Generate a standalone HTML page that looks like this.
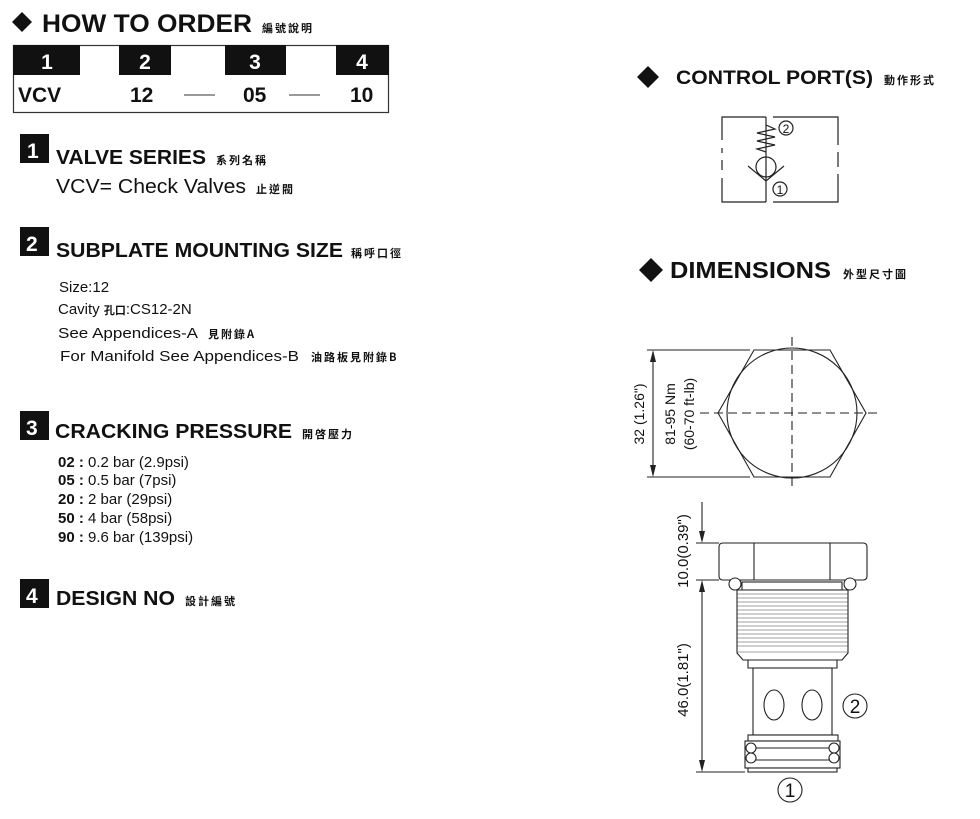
<!DOCTYPE html>
<html><head><meta charset="utf-8"><style>
html,body{margin:0;padding:0;background:#fff;}
svg{display:block;}
text{font-family:"Liberation Sans","Noto Sans CJK TC",sans-serif;fill:#111;}
.b{font-weight:bold;}
.cj{font-family:"Noto Sans CJK TC","Liberation Sans",sans-serif;font-size:11px;font-weight:bold;letter-spacing:2px;}
</style></head><body>
<svg width="980" height="819" viewBox="0 0 980 819" xmlns="http://www.w3.org/2000/svg">
<!-- HOW TO ORDER -->
<polygon points="22,12 32,22 22,32 12,22" fill="#111"/>
<text x="42" y="32" class="b" font-size="25" textLength="210" lengthAdjust="spacingAndGlyphs">HOW TO  ORDER</text>
<text x="262" y="32" class="cj">編號說明</text>
<!-- table -->
<rect x="13.5" y="45.5" width="375" height="67" fill="#fff" stroke="#333" stroke-width="1.2"/>
<rect x="13" y="45" width="67" height="30" fill="#111"/>
<rect x="119" y="45" width="52" height="30" fill="#111"/>
<rect x="225" y="45" width="61" height="30" fill="#111"/>
<rect x="336" y="45" width="53" height="30" fill="#111"/>
<g class="b" font-size="21" text-anchor="middle" style="fill:#fff">
<text x="47" y="69" style="fill:#fff" class="b">1</text>
<text x="145" y="69" style="fill:#fff" class="b">2</text>
<text x="255" y="69" style="fill:#fff" class="b">3</text>
<text x="362" y="69" style="fill:#fff" class="b">4</text>
</g>
<g font-size="21" class="b">
<text x="18" y="102" class="b">VCV</text>
<text x="130" y="102" class="b">12</text>
<text x="243" y="102" class="b">05</text>
<text x="350" y="102" class="b">10</text>
</g>
<line x1="184" y1="95" x2="215" y2="95" stroke="#333" stroke-width="1"/>
<line x1="289" y1="95" x2="320" y2="95" stroke="#333" stroke-width="1"/>

<!-- section 1 -->
<rect x="20" y="134" width="29" height="29" fill="#111"/>
<text x="27" y="158" class="b" font-size="21" style="fill:#fff">1</text>
<text x="56" y="164" class="b" font-size="20" textLength="150" lengthAdjust="spacingAndGlyphs">VALVE SERIES</text>
<text x="216" y="164" class="cj">系列名稱</text>
<text x="56" y="193" font-size="20" textLength="190" lengthAdjust="spacingAndGlyphs">VCV= Check Valves</text>
<text x="256" y="193" class="cj">止逆閥</text>

<!-- section 2 -->
<rect x="20" y="227" width="29" height="29" fill="#111"/>
<text x="26" y="251" class="b" font-size="21" style="fill:#fff">2</text>
<text x="56" y="257" class="b" font-size="20" textLength="287" lengthAdjust="spacingAndGlyphs">SUBPLATE MOUNTING SIZE</text>
<text x="351" y="257" class="cj">稱呼口徑</text>
<text x="59" y="292" font-size="15">Size:12</text>
<text x="58" y="314" font-size="15">Cavity <tspan class="cj" style="letter-spacing:0" font-size="11">孔口</tspan>:CS12-2N</text>
<text x="58" y="338" font-size="15" textLength="140" lengthAdjust="spacingAndGlyphs">See Appendices-A</text>
<text x="208" y="338" class="cj">見附錄A</text>
<text x="60" y="361" font-size="15" textLength="239" lengthAdjust="spacingAndGlyphs">For Manifold See Appendices-B</text>
<text x="311" y="361" class="cj">油路板見附錄B</text>

<!-- section 3 -->
<rect x="20" y="411" width="29" height="29" fill="#111"/>
<text x="26" y="435" class="b" font-size="21" style="fill:#fff">3</text>
<text x="55" y="438" class="b" font-size="20" textLength="237" lengthAdjust="spacingAndGlyphs">CRACKING PRESSURE</text>
<text x="302" y="438" class="cj">開啓壓力</text>
<g font-size="15">
<text x="58" y="467"><tspan class="b">02 :</tspan> 0.2 bar (2.9psi)</text>
<text x="58" y="485"><tspan class="b">05 :</tspan> 0.5 bar (7psi)</text>
<text x="58" y="504"><tspan class="b">20 :</tspan> 2 bar (29psi)</text>
<text x="58" y="523"><tspan class="b">50 :</tspan> 4 bar (58psi)</text>
<text x="58" y="542"><tspan class="b">90 :</tspan> 9.6 bar (139psi)</text>
</g>

<!-- section 4 -->
<rect x="20" y="579" width="29" height="29" fill="#111"/>
<text x="26" y="603" class="b" font-size="21" style="fill:#fff">4</text>
<text x="56" y="605" class="b" font-size="20" textLength="119" lengthAdjust="spacingAndGlyphs">DESIGN NO</text>
<text x="185" y="605" class="cj">設計編號</text>

<!-- CONTROL PORTS -->
<polygon points="648,66 659,77 648,88 637,77" fill="#111"/>
<text x="676" y="84" class="b" font-size="19" textLength="197" lengthAdjust="spacingAndGlyphs">CONTROL PORT(S)</text>
<text x="884" y="84" class="cj">動作形式</text>
<g stroke="#222" stroke-width="1.2" fill="none">
<path d="M722,140 V117 H766"/><path d="M773,117 H838 V145"/>
<path d="M838,152 V167"/><path d="M838,174 V202 H773"/><path d="M766,202 H722 V178"/>
<path d="M722,160 V170"/><path d="M722,148 V153"/>
<line x1="766" y1="117" x2="766" y2="202"/>
<polyline points="766,125 775,129 757,133 775,137 757,141 775,145 757,149 766,152"/>
<circle cx="766" cy="167" r="10"/>
<polyline points="748,166 766,181 784,166"/>
<circle cx="786" cy="128" r="7"/>
<circle cx="780" cy="189" r="7"/>
</g>
<text x="786" y="133" font-size="12" text-anchor="middle">2</text>
<text x="780" y="194" font-size="12" text-anchor="middle">1</text>

<!-- DIMENSIONS -->
<polygon points="651,258 663,270 651,282 639,270" fill="#111"/>
<text x="670" y="278" class="b" font-size="23" textLength="161" lengthAdjust="spacingAndGlyphs">DIMENSIONS</text>
<text x="843" y="278" class="cj">外型尺寸圖</text>

<g stroke="#222" stroke-width="1.1" fill="none">
<!-- hex top view -->
<polygon points="754,350 830,350 866,413 830,477 754,477 718,413"/>
<circle cx="792" cy="413" r="65"/>
<line x1="792" y1="337" x2="792" y2="488" stroke-dasharray="9,5"/>
<line x1="700" y1="413" x2="882" y2="413" stroke-dasharray="9,5"/>
<line x1="647" y1="350" x2="750" y2="350"/>
<line x1="647" y1="477" x2="750" y2="477"/>
<line x1="653" y1="352" x2="653" y2="475"/>
</g>
<polygon points="653,350 650,362 656,362" fill="#222"/>
<polygon points="653,477 650,465 656,465" fill="#222"/>
<text transform="translate(644,414) rotate(-90)" font-size="14" text-anchor="middle">32 (1.26")</text>
<text transform="translate(675,414) rotate(-90)" font-size="14" text-anchor="middle">81-95 Nm</text>
<text transform="translate(694,414) rotate(-90)" font-size="14" text-anchor="middle">(60-70 ft-lb)</text>

<!-- cartridge side view -->
<g stroke="#222" stroke-width="1.1" fill="#fff">
<path d="M723,543 H863 Q867,543 867,547 V576 Q867,580 863,580 H723 Q719,580 719,576 V547 Q719,543 723,543 Z"/>
<line x1="754" y1="543" x2="754" y2="580"/><line x1="830" y1="543" x2="830" y2="580"/>
<line x1="745" y1="580" x2="841" y2="580"/>
<rect x="742" y="582" width="100" height="8"/>
<path d="M737,590 H848 V653 L842,660 H743 L737,653 Z"/>
<path d="M748,660 H837 V668 H748 Z"/>
<rect x="753" y="668" width="79" height="67"/>
<ellipse cx="774" cy="705" rx="10" ry="15"/>
<ellipse cx="812" cy="705" rx="10" ry="15"/>
<rect x="748" y="735" width="90" height="6"/>
<rect x="745" y="741" width="95" height="27"/>
<line x1="755" y1="748" x2="830" y2="748"/>
<line x1="755" y1="760" x2="830" y2="760"/>
<rect x="748" y="768" width="89" height="4"/>
<circle cx="735" cy="584" r="6"/><circle cx="850" cy="584" r="6"/>
<circle cx="751" cy="748" r="5"/><circle cx="751" cy="758" r="5"/>
<circle cx="834" cy="748" r="5"/><circle cx="834" cy="758" r="5"/>
</g>
<g stroke="#444" stroke-width="0.6">
<line x1="737" y1="598" x2="848" y2="598"/><line x1="737" y1="606" x2="848" y2="606"/>
<line x1="737" y1="614" x2="848" y2="614"/><line x1="737" y1="622" x2="848" y2="622"/>
<line x1="737" y1="630" x2="848" y2="630"/><line x1="737" y1="638" x2="848" y2="638"/>
<line x1="737" y1="646" x2="848" y2="646"/><line x1="737" y1="652" x2="848" y2="652"/>
<line x1="737" y1="594" x2="848" y2="594"/><line x1="737" y1="602" x2="848" y2="602"/>
<line x1="737" y1="610" x2="848" y2="610"/><line x1="737" y1="618" x2="848" y2="618"/>
<line x1="737" y1="626" x2="848" y2="626"/><line x1="737" y1="634" x2="848" y2="634"/>
<line x1="737" y1="642" x2="848" y2="642"/>
</g>
<g stroke="#222" stroke-width="1.1" fill="none">
<line x1="702" y1="502" x2="702" y2="535"/>
<line x1="696" y1="543" x2="719" y2="543"/>
<line x1="696" y1="580" x2="719" y2="580"/>
<line x1="702" y1="588" x2="702" y2="764"/>
<line x1="696" y1="772" x2="745" y2="772"/>
<circle cx="855" cy="706" r="12"/>
<circle cx="790" cy="790" r="12"/>
</g>
<polygon points="702,543 699,531 705,531" fill="#222"/>
<polygon points="702,580 699,592 705,592" fill="#222"/>
<polygon points="702,772 699,760 705,760" fill="#222"/>
<text transform="translate(688,551) rotate(-90)" font-size="15" text-anchor="middle">10.0(0.39")</text>
<text transform="translate(688,680) rotate(-90)" font-size="15" text-anchor="middle">46.0(1.81")</text>
<text x="855" y="713" font-size="19" text-anchor="middle">2</text>
<text x="790" y="797" font-size="19" text-anchor="middle">1</text>
</svg>
</body></html>
